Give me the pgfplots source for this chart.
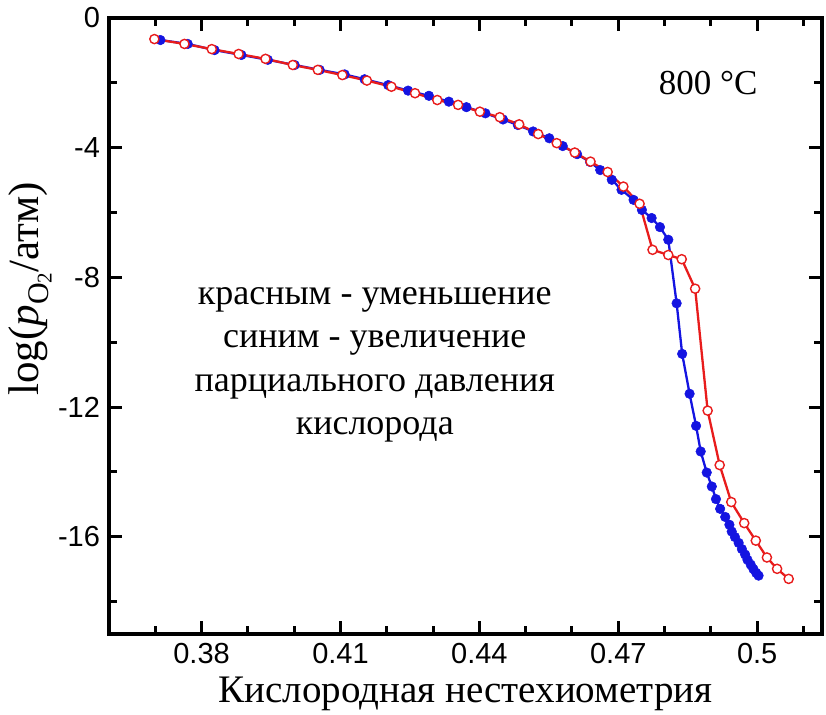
\documentclass[border=0pt]{standalone}
\usepackage{fontspec}
\setmainfont{Liberation Serif}
\setsansfont{Liberation Sans}
\usepackage{pgfplots}
\pgfplotsset{compat=1.18}
\definecolor{myred}{RGB}{232,28,28}
\definecolor{myblue}{RGB}{20,20,225}
\begin{document}
\begin{tikzpicture}
\begin{axis}[
  scale only axis, width=713bp, height=616bp,
  xmin=0.36, xmax=0.514, ymin=-19, ymax=0,
  line width=3.4bp,
  axis line style={line width=3.4bp},
  xtick={0.38,0.41,0.44,0.47,0.5},
  minor xtick={0.37,0.39,0.40,0.42,0.43,0.45,0.46,0.48,0.49,0.51},
  ytick={0,-4,-8,-12,-16},
  minor ytick={-2,-6,-10,-14,-18},
  every tick/.style={line width=3bp, black},
  major tick length=13bp, minor tick length=8bp,
  tick align=inside,
  /pgf/number format/assume math mode=true,
  ticklabel style={font=\sffamily\fontsize{29bp}{29bp}\selectfont},
  xticklabel style={yshift=-4bp},
  yticklabel style={xshift=-4bp},
  xlabel={Кислородная нестехиометрия},
  xlabel style={font=\fontsize{39bp}{40bp}\selectfont, yshift=-5bp},
  ylabel={log(\textit{p}\lower0.22em\hbox{\fontsize{30bp}{30bp}\selectfont O\lower0.12em\hbox{\fontsize{21bp}{21bp}\selectfont 2}}/атм)},
  ylabel style={font=\fontsize{43bp}{45bp}\selectfont, yshift=-2bp, at={(ticklabel cs:0.56)}},
]
\addplot[myblue, line width=2.3bp, mark=*, mark size=4.8bp, mark options={fill=myblue, draw=myblue, line width=0.5bp}] coordinates {
(0.3711,-0.68)(0.3770,-0.80)(0.3828,-0.99)(0.3886,-1.14)(0.3943,-1.29)(0.4001,-1.45)(0.4055,-1.60)(0.4109,-1.74)(0.4152,-1.89)(0.4203,-2.07)(0.4246,-2.24)(0.4291,-2.40)(0.4334,-2.58)(0.4372,-2.75)(0.4413,-2.94)(0.4451,-3.13)(0.4483,-3.30)(0.4516,-3.50)(0.4551,-3.71)(0.4580,-3.95)(0.4611,-4.20)(0.4639,-4.44)(0.4661,-4.69)(0.4686,-4.99)(0.4707,-5.30)(0.4733,-5.61)(0.4751,-5.92)(0.4772,-6.17)(0.4790,-6.45)(0.4808,-6.84)(0.4826,-8.80)(0.4838,-10.36)(0.4854,-11.59)(0.4868,-12.58)(0.4878,-13.37)(0.4891,-14.02)(0.4902,-14.45)(0.4911,-14.84)(0.4920,-15.14)(0.4931,-15.39)(0.4940,-15.63)(0.4945,-15.84)(0.4952,-16.01)(0.4960,-16.19)(0.4967,-16.38)(0.4974,-16.55)(0.4979,-16.71)(0.4986,-16.86)(0.4992,-17.00)(0.4998,-17.12)(0.5003,-17.20)
};
\addplot[myred, line width=2.3bp, mark=*, mark size=4.6bp, mark options={fill=white, draw=myred, line width=1.4bp}] coordinates {
(0.3698,-0.65)(0.3763,-0.80)(0.3822,-0.96)(0.3880,-1.11)(0.3938,-1.26)(0.3997,-1.45)(0.4051,-1.60)(0.4104,-1.76)(0.4157,-1.93)(0.4210,-2.12)(0.4261,-2.32)(0.4309,-2.53)(0.4354,-2.68)(0.4401,-2.89)(0.4444,-3.06)(0.4486,-3.28)(0.4527,-3.58)(0.4567,-3.86)(0.4606,-4.15)(0.4640,-4.43)(0.4677,-4.75)(0.4711,-5.20)(0.4746,-5.73)(0.4774,-7.15)(0.4808,-7.31)(0.4837,-7.44)(0.4866,-8.35)(0.4893,-12.11)(0.4919,-13.79)(0.4944,-14.93)(0.4972,-15.58)(0.4997,-16.12)(0.5021,-16.64)(0.5043,-16.99)(0.5068,-17.30)
};
\node[font=\fontsize{36bp}{43.5bp}\selectfont, align=center] at (axis cs:0.4174,-10.70) {красным - уменьшение\\синим - увеличение\\парциального давления\\кислорода};
\node[font=\fontsize{35bp}{40bp}\selectfont] at (axis cs:0.4894,-2.0) {800 °C};
\end{axis}
\pgfresetboundingbox
\path[use as bounding box] (-109bp,-81bp) rectangle (717bp,634bp);
\end{tikzpicture}
\end{document}
